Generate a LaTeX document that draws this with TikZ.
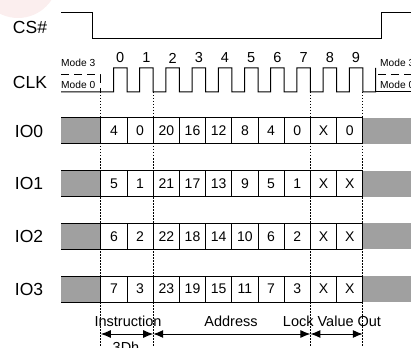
\documentclass[tikz,border=0pt]{standalone}
\usepackage{fontspec}
\setmainfont{Liberation Sans}
\usetikzlibrary{arrows.meta}
\definecolor{padgray}{RGB}{160,160,160}
\definecolor{blush}{RGB}{251,238,238}

\begin{document}
\begin{tikzpicture}[x=1pt,y=-1pt,
  sig/.style={line width=1pt},
  cell/.style={draw,line width=1pt,minimum width=26.2pt,minimum height=26pt,inner sep=0pt,font=\fontsize{14}{16}\selectfont},
  lbl/.style={font=\fontsize{17.5}{20}\selectfont},
  mode/.style={font=\fontsize{10.2}{12}\selectfont,anchor=west,inner sep=0pt},
  phase/.style={font=\fontsize{14.5}{16}\selectfont},
  guide/.style={line width=0.9pt,dash pattern=on 1.5pt off 1.5pt},
  span/.style={line width=1pt,{Latex[length=10pt,width=8pt]}-{Latex[length=10pt,width=8pt]}}]

\useasboundingbox (0,0) rectangle (411,347);

\fill[blush] (18,-22) circle (40pt);

% CS#
\node[lbl] (cs) at (30,27) {CS\#};
\draw[sig] (61,13) -- (92,13) -- (92,39) -- (381,39) -- (381,13) -- (411,13);

% CLK
\node[lbl] (clk) at (30,82) {CLK};
\draw[sig] (61,92) -- (113.5,92)
  \foreach \i in {0,...,9} { -- ++(0,-24) -- ++(13.5,0) -- ++(0,24) -- ++(12.7,0) }
  -- (375.5,68);
\draw[sig] (375.5,92) -- (411,92);
\draw[sig,dash pattern=on 8pt off 5pt] (61,75) -- (100,75) -- (100,92);
\draw[sig,dash pattern=on 8pt off 5pt] (378,75) -- (411,75);
\node[mode] (mode3a) at (61,63) {Mode 3};
\node[mode] (mode0a) at (61,84.5) {Mode 0};
\node[mode] (mode3b) at (380,63) {Mode 3};
\node[mode] (mode0b) at (380,85) {Mode 0};
\foreach \i in {0,...,9}
  \node[phase] (tick\i) at ({120.2+26.2*\i},58) {\i};

% IO0 - IO3
\foreach \r/\vals in {0/{4,0,20,16,12,8,4,0,X,0},
                      1/{5,1,21,17,13,9,5,1,X,X},
                      2/{6,2,22,18,14,10,6,2,X,X},
                      3/{7,3,23,19,15,11,7,3,X,X}} {
  \pgfmathsetmacro\rowtop{118+52.7*\r}
  \node[lbl] (io\r) at (29,\rowtop+13) {IO\r};
  \fill[padgray] (61,\rowtop) rectangle (100.8,\rowtop+26);
  \draw[sig] (61,\rowtop) -- (100.8,\rowtop) (61,\rowtop+26) -- (100.8,\rowtop+26);
  \fill[padgray] (362.8,\rowtop) rectangle (411,\rowtop+26);
  \foreach \v [count=\k from 0] in \vals
    \node[cell] (io\r-\k) at ({113.9+26.2*\k},\rowtop+13) {\v};
}

% phases
\foreach \b in {100.8,153.2,310.4,362.8}
  \draw[guide] (\b,92) -- (\b,347);
\coordinate (p0) at (100.8,334);
\coordinate (p2) at (153.2,334);
\coordinate (p8) at (310.4,334);
\coordinate (p10) at (362.8,334);
\draw[span] (p0) -- (p2);
\draw[span] (p2) -- (p8);
\draw[span] (p8) -- (p10);
\node[phase] (instr) at (128,321) {Instruction};
\node[phase] (addr) at (231,321) {Address};
\node[phase] (lock) at (332,321) {Lock Value Out};
\node[phase] (code) at (126,347) {3Dh};

\end{tikzpicture}
\end{document}
